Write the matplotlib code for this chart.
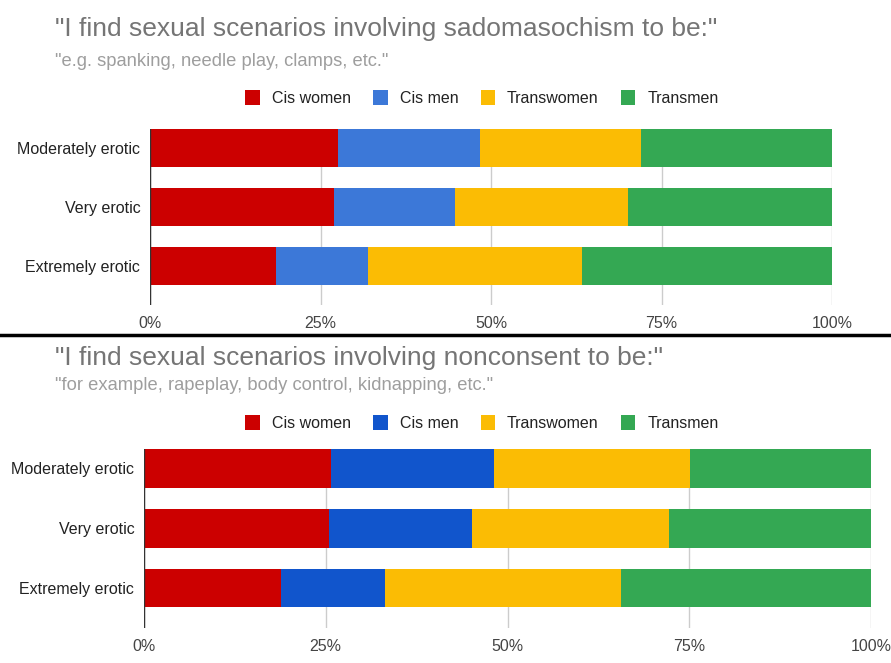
import matplotlib
matplotlib.use("Agg")
import matplotlib.pyplot as plt
from matplotlib.lines import Line2D
from matplotlib.ticker import FuncFormatter

plt.rcParams['font.family'] = ['Liberation Sans', 'DejaVu Sans']

categories = ["Moderately erotic", "Very erotic", "Extremely erotic"]
groups = ["Cis women", "Cis men", "Transwomen", "Transmen"]

# sadomasochism chart (share of each row, %)
sm_cis_women = [27.6, 27.0, 18.5]
sm_cis_men = [20.8, 17.7, 13.5]
sm_transwomen = [23.6, 25.4, 31.3]
sm_transmen = [28.0, 29.9, 36.7]

# nonconsent chart
nc_cis_women = [25.7, 25.4, 18.8]
nc_cis_men = [22.4, 19.7, 14.3]
nc_transwomen = [27.0, 27.1, 32.5]
nc_transmen = [24.9, 27.8, 34.4]

top_colors = ['#cc0000', '#3c78d8', '#fbbc04', '#34a853']
bot_colors = ['#cc0000', '#1155cc', '#fbbc04', '#34a853']

W, H = 891, 663
fig = plt.figure(figsize=(W / 100, H / 100), dpi=100)


def fx(px):
    return px / W


def fy(py):
    return 1 - py / H


def stacked(ax, series, colors, bottom_pad):
    left = [0, 0, 0]
    ypos = list(range(len(categories)))
    handles = []
    for vals, c, name in zip(series, colors, groups):
        b = ax.barh(ypos, vals, left=left, height=0.65, color=c, label=name, zorder=3)
        handles.append(b)
        left = [l + v for l, v in zip(left, vals)]
    ax.set_xlim(0, 100)
    ax.set_ylim(2 + bottom_pad, -0.325)
    ax.set_yticks(ypos)
    ax.set_yticklabels(categories, fontsize=11.5, color='#222222')
    ax.set_xticks([0, 25, 50, 75, 100])
    ax.xaxis.set_major_formatter(FuncFormatter(lambda v, p: f"{int(v)}%"))
    ax.tick_params(axis='x', labelsize=11.5, colors='#444444', length=0, pad=8)
    ax.tick_params(axis='y', length=0, pad=7)
    ax.grid(axis='x', color='#cccccc', lw=1, zorder=0)
    ax.axvline(0, color='#333333', lw=1, zorder=4)
    for s in ax.spines.values():
        s.set_visible(False)
    return handles


# top chart: plot area from y=129 to 305 px
ax1 = fig.add_axes([fx(150), fy(305), fx(832 - 150), (305 - 129) / H])
h1 = stacked(ax1, [sm_cis_women, sm_cis_men, sm_transwomen, sm_transmen], top_colors, 0.66)

# bottom chart: plot area from y=449 to 628 px
ax2 = fig.add_axes([fx(144), fy(628), fx(871 - 144), (628 - 449) / H])
h2 = stacked(ax2, [nc_cis_women, nc_cis_men, nc_transwomen, nc_transmen], bot_colors, 0.67)

fig.text(fx(55), fy(29), '"I find sexual scenarios involving sadomasochism to be:"',
         fontsize=19, color='#757575', va='center', ha='left')
fig.text(fx(55), fy(62), '"e.g. spanking, needle play, clamps, etc."',
         fontsize=13.2, color='#9e9e9e', va='center', ha='left')
fig.text(fx(55), fy(358), '"I find sexual scenarios involving nonconsent to be:"',
         fontsize=19, color='#757575', va='center', ha='left')
fig.text(fx(55), fy(386), '"for example, rapeplay, body control, kidnapping, etc."',
         fontsize=13.2, color='#9e9e9e', va='center', ha='left')

for hs, ycen in [(h1, 98), (h2, 423)]:
    fig.legend(hs, groups, loc='center', bbox_to_anchor=(fx(482), fy(ycen)),
               ncol=4, frameon=False, fontsize=11.5, handlelength=0.9,
               handleheight=1.1, handletextpad=0.75, columnspacing=1.4,
               labelcolor='#222222')

# separator between the two charts
fig.add_artist(Line2D([0, 1], [fy(334.5), fy(334.5)], transform=fig.transFigure,
                      color='black', lw=2.5))

fig.savefig('out.png', dpi=100)
